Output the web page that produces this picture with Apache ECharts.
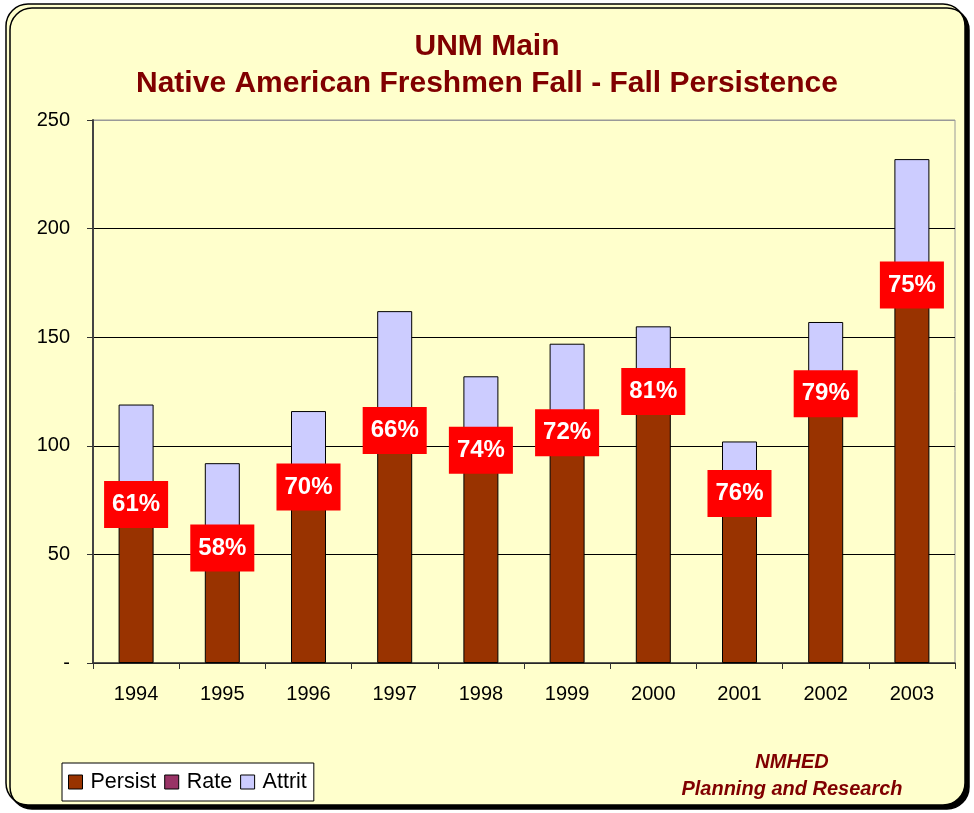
<!DOCTYPE html>
<html>
<head>
<meta charset="utf-8">
<script src="https://cdn.jsdelivr.net/npm/echarts@6/dist/echarts.min.js"></script>
<style>
  html, body { margin: 0; padding: 0; background: #ffffff; }
  #myChart { width: 974px; height: 813px; }
</style>
</head>
<body>
<div id="myChart"></div>
<script>
// 数据
var years = ["1994", "1995", "1996", "1997", "1998", "1999", "2000", "2001", "2002", "2003"];
var persist = [73, 53, 81, 107, 98, 106, 125, 78, 124, 174];
var attrit = [46, 39, 35, 55, 34, 41, 30, 24, 33, 58];
var rate = ["61%", "58%", "70%", "66%", "74%", "72%", "81%", "76%", "79%", "75%"];

var font = "'Liberation Sans', Arial, sans-serif";
var myChart = echarts.init(document.getElementById("myChart"));

myChart.setOption({
    textStyle: { fontFamily: font },
    title: {
        text: "UNM Main\nNative American Freshmen Fall - Fall Persistence",
        left: "center",
        top: 23,
        textStyle: {
            fontFamily: font,
            fontSize: 30,
            fontWeight: "bold",
            color: "#800000",
            lineHeight: 37
        }
    },
    graphic: [
        {
            type: "rect",
            z: -10,
            silent: true,
            shape: { x: 6, y: 4, width: 959, height: 801, r: 22 },
            style: {
                fill: "#FFFFCC",
                stroke: "#000",
                lineWidth: 1.5,
                shadowColor: "#000",
                shadowBlur: 0,
                shadowOffsetX: 4,
                shadowOffsetY: 4
            }
        },
        {
            type: "text",
            x: 792,
            y: 749,
            style: {
                text: "NMHED\nPlanning and Research",
                align: "center",
                verticalAlign: "top",
                fill: "#800000",
                font: "italic bold 20px " + font,
                lineHeight: 27
            }
        }
    ],
    legend: {
        left: 62,
        top: 763,
        orient: "horizontal",
        backgroundColor: "#fff",
        borderColor: "#000",
        borderWidth: 1,
        borderRadius: 0,
        padding: [8, 7, 8, 6],
        itemWidth: 14,
        itemHeight: 14,
        itemGap: 8,
        icon: "rect",
        textStyle: { fontSize: 21.5, color: "#000", fontFamily: font, padding: [0, 0, 0, 3] },
        data: [
            { name: "Persist", itemStyle: { color: "#993300", borderColor: "#000", borderWidth: 1, opacity: 1 } },
            { name: "Rate", itemStyle: { color: "#993366", borderColor: "#000", borderWidth: 1, opacity: 1 } },
            { name: "Attrit", itemStyle: { color: "#CCCCFF", borderColor: "#000", borderWidth: 1, opacity: 1 } }
        ]
    },
    grid: {
        left: 93,
        right: 19,
        top: 120,
        bottom: 150,
        show: true,
        borderColor: "#999",
        borderWidth: 1,
        backgroundColor: "transparent"
    },
    xAxis: {
        type: "category",
        data: years,
        axisLine: { lineStyle: { color: "#333", width: 1.5 } },
        axisTick: { show: true, length: 6, lineStyle: { color: "#333" } },
        axisLabel: { fontSize: 20, color: "#000", margin: 21, fontFamily: font }
    },
    yAxis: {
        type: "value",
        min: 0,
        max: 250,
        interval: 50,
        axisLine: { show: true, lineStyle: { color: "#444", width: 2 } },
        axisTick: { show: true, length: 6, lineStyle: { color: "#333" } },
        axisLabel: {
            fontSize: 20,
            color: "#000",
            margin: 23,
            fontFamily: font,
            formatter: function (v) { return v === 0 ? "-" : v; }
        },
        splitLine: {
            show: true,
            lineStyle: { color: ["#000", "#000", "#000", "#000", "#000", "#999"], width: 1 }
        }
    },
    series: [
        {
            name: "Persist",
            type: "bar",
            stack: "total",
            barWidth: 35,
            data: persist,
            itemStyle: { color: "#993300", borderColor: "#000", borderWidth: 1 }
        },
        {
            name: "Attrit",
            type: "bar",
            stack: "total",
            barWidth: 35,
            data: attrit,
            itemStyle: { color: "#CCCCFF", borderColor: "#000", borderWidth: 1 }
        },
        {
            name: "Rate",
            type: "scatter",
            symbolSize: 0,
            z: 10,
            data: persist,
            itemStyle: { color: "#993366", opacity: 1 },
            label: {
                show: true,
                position: "inside",
                opacity: 1,
                formatter: function (p) { return rate[p.dataIndex]; },
                backgroundColor: "#FF0000",
                color: "#fff",
                fontFamily: font,
                fontWeight: "bold",
                fontSize: 24,
                padding: [12, 8, 11, 8]
            }
        }
    ]
});
</script>
</body>
</html>
